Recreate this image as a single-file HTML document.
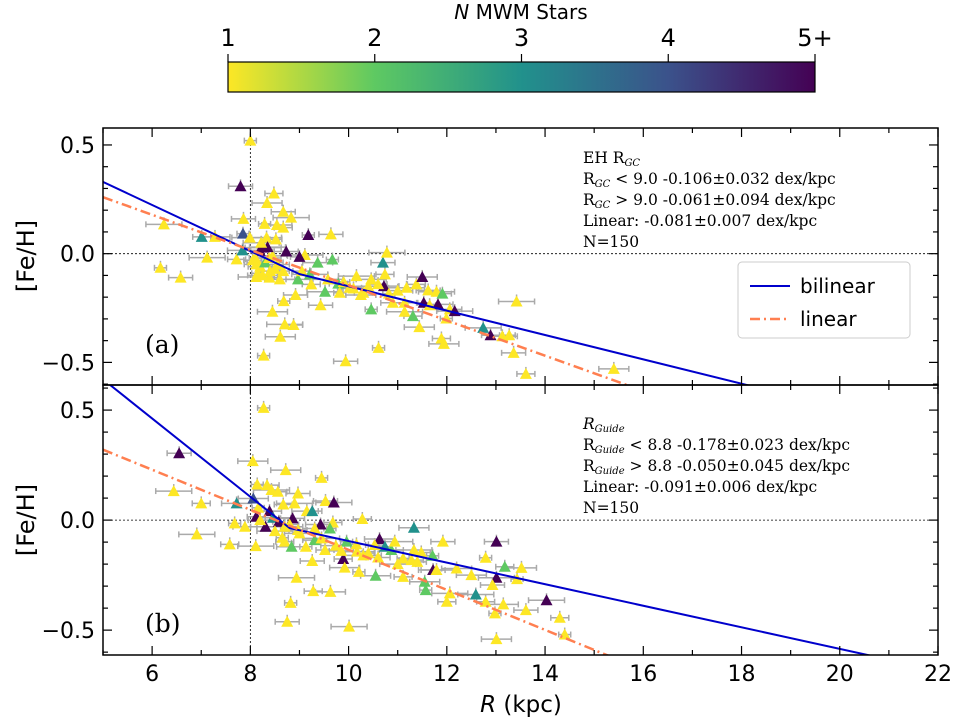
<!DOCTYPE html>
<html><head><meta charset="utf-8"><style>
html,body{margin:0;background:#fff;overflow:hidden;width:955px;height:720px}
svg{display:block}
.tk{font-family:"DejaVu Sans","Liberation Sans",sans-serif;font-size:21px;fill:#000}
.an{font-family:"DejaVu Serif","Liberation Serif",serif;font-size:15.5px;fill:#000}
</style></head><body>
<svg id="c" width="955" height="720" viewBox="0 0 955 720" xmlns="http://www.w3.org/2000/svg">
<defs><linearGradient id="vir" x1="0" x2="1" y1="0" y2="0">
<stop offset="0" stop-color="#fde725"/><stop offset="0.25" stop-color="#5ec962"/><stop offset="0.5" stop-color="#21918c"/><stop offset="0.75" stop-color="#3b528b"/><stop offset="1" stop-color="#440154"/></linearGradient></defs>
<g>
<text class="tk" x="521" y="19" text-anchor="middle" style="font-size:20px"><tspan font-style="italic">N</tspan> MWM Stars</text>
<rect x="228" y="62" width="587" height="30" fill="url(#vir)" stroke="#000" stroke-width="1.2"/>
<g id="cbt"></g>
</g>
<g id="pa"></g>
<g id="pb"></g>
<text class="tk" x="521" y="712" text-anchor="middle" style="font-size:23px"><tspan font-style="italic">R</tspan> (kpc)</text>
<text class="tk" transform="translate(34,256) rotate(-90)" text-anchor="middle" style="font-size:24px">[Fe/H]</text>
<text class="tk" transform="translate(34,520) rotate(-90)" text-anchor="middle" style="font-size:24px">[Fe/H]</text>
<g>
<rect x="738" y="262" width="172" height="76" rx="4" fill="#fff" stroke="#ccc"/>
<line x1="750" y1="286" x2="790" y2="286" stroke="#0000cc" stroke-width="2"/>
<text class="tk" x="800" y="293" style="font-size:20px">bilinear</text>
<line x1="750" y1="319" x2="790" y2="319" stroke="#ff7f50" stroke-width="2.5" stroke-dasharray="10,4,2,4"/>
<text class="tk" x="800" y="326" style="font-size:20px">linear</text>
</g>
<g>
<text class="an" x="583" y="163">EH R<tspan style="font-size:10px" dy="3" font-style="italic">GC</tspan></text>
<text class="an" x="583" y="184">R<tspan style="font-size:10px" dy="3" font-style="italic">GC</tspan><tspan dy="-3"> &lt;  9.0 -0.106±0.032 dex/kpc</tspan></text>
<text class="an" x="583" y="205">R<tspan style="font-size:10px" dy="3" font-style="italic">GC</tspan><tspan dy="-3"> &gt;  9.0 -0.061±0.094 dex/kpc</tspan></text>
<text class="an" x="583" y="226">Linear: -0.081±0.007 dex/kpc</text>
<text class="an" x="583" y="247">N=150</text>
<text class="an" x="145" y="353" style="font-size:25px">(a)</text>
</g>
<g>
<text class="an" x="583" y="429" font-style="italic">R<tspan style="font-size:10px" dy="3">Guide</tspan></text>
<text class="an" x="583" y="450">R<tspan style="font-size:10px" dy="3" font-style="italic">Guide</tspan><tspan dy="-3"> &lt;  8.8 -0.178±0.023 dex/kpc</tspan></text>
<text class="an" x="583" y="471">R<tspan style="font-size:10px" dy="3" font-style="italic">Guide</tspan><tspan dy="-3"> &gt;  8.8 -0.050±0.045 dex/kpc</tspan></text>
<text class="an" x="583" y="492">Linear: -0.091±0.006 dex/kpc</text>
<text class="an" x="583" y="513">N=150</text>
<text class="an" x="145" y="632" style="font-size:25px">(b)</text>
</g>
</svg>
<script>
// colour index 0 yellow,1 green,2 teal,3 blue,4 purple
const cbTicks=["1","2","3","4","5+"];
const aR=[8.0,7.8,6.24,7.01,7.28,6.17,6.58,7.12,7.72,7.84,7.85,7.86,7.99,8.48,8.34,8.29,8.67,8.83,8.67,8.54,9.18,9.64,8.26,8.19,8.33,8.52,8.73,9.11,9.0,9.37,9.67,8.12,8.12,8.39,8.6,8.67,8.97,9.21,9.24,8.45,8.68,8.92,8.7,8.88,8.61,8.27,9.43,9.52,9.79,9.58,9.82,10.02,10.16,10.3,10.46,10.46,10.7,10.78,10.74,10.72,10.82,10.9,11.18,11.38,11.5,11.53,11.62,11.79,11.91,11.82,11.65,11.14,11.14,11.31,11.44,11.99,12.06,12.16,11.89,11.94,10.61,9.94,12.74,12.89,13.13,13.27,13.36,13.42,13.61,15.4,8.1,8.2,8.3,8.4,8.45,8.15,8.55,8.35,8.05,8.25,9.9,10.1,10.4,10.6,11.0,8.5,8.38,8.22,9.05,10.25];
const aF=[0.52,0.31,0.135,0.077,0.077,-0.065,-0.11,-0.018,-0.026,0.015,0.092,0.16,0.074,0.277,0.233,0.137,0.193,0.166,0.12,0.132,0.086,0.089,0.028,0.013,0.074,0.066,0.01,-0.006,-0.015,-0.041,-0.027,-0.049,-0.107,-0.11,-0.118,-0.08,-0.118,-0.095,-0.141,-0.267,-0.218,-0.19,-0.325,-0.328,-0.382,-0.469,-0.237,-0.175,-0.138,-0.118,-0.18,-0.157,-0.103,-0.18,-0.118,-0.256,-0.041,0.005,-0.095,-0.149,-0.184,-0.226,-0.157,-0.141,-0.107,-0.226,-0.169,-0.175,-0.184,-0.233,-0.237,-0.226,-0.267,-0.287,-0.338,-0.298,-0.256,-0.264,-0.39,-0.415,-0.433,-0.495,-0.341,-0.375,-0.38,-0.375,-0.456,-0.22,-0.553,-0.53,-0.02,-0.06,-0.04,-0.08,-0.01,-0.09,-0.05,0.03,-0.03,-0.1,-0.13,-0.16,-0.15,-0.14,-0.17,-0.07,-0.02,0.05,-0.08,-0.19];
const aC=[0,4,0,2,0,0,0,0,0,2,3,0,0,0,0,0,0,0,0,0,4,0,4,4,0,0,4,0,4,1,1,0,0,0,0,0,1,1,0,0,0,0,0,0,0,0,0,1,1,0,0,0,0,0,0,1,2,0,0,4,0,0,0,0,4,4,0,0,1,4,0,0,0,1,0,0,0,4,0,0,0,0,2,4,0,0,0,0,0,0,0,0,1,0,0,0,0,4,0,0,0,0,0,0,0,0,0,0,0,0];
const bR=[8.27,6.55,6.44,7.0,7.72,7.68,7.89,6.91,7.58,8.05,8.14,8.34,8.43,8.56,8.72,9.45,8.97,8.9,8.67,8.06,8.16,8.39,8.46,8.12,8.31,8.58,8.86,8.7,8.97,9.15,9.26,9.53,9.7,9.68,9.43,9.62,9.31,8.11,8.7,8.84,9.13,9.31,9.45,9.52,9.74,9.96,10.16,10.17,9.89,9.92,10.21,9.26,8.94,9.28,9.63,8.82,8.75,10.01,10.28,10.63,10.74,10.87,10.94,10.53,10.55,11.11,11.28,11.33,11.48,11.33,11.71,11.72,11.79,11.11,11.55,11.57,11.92,12.06,12.0,12.5,12.79,13.01,13.01,13.18,13.52,13.43,12.93,12.59,12.79,13.15,12.98,13.61,14.03,14.3,13.01,14.4,8.2,8.5,8.8,9.0,10.4,10.6,11.0,11.4,12.2,8.65,9.85,10.3];
const bF=[0.51,0.304,0.132,0.076,0.076,-0.015,-0.03,-0.065,-0.11,0.268,0.162,0.159,0.137,0.129,0.227,0.192,0.121,0.076,0.071,0.098,0.056,0.041,0.011,0.015,-0.03,-0.008,0.008,-0.03,-0.045,0.041,0.041,0.087,0.08,-0.011,-0.02,-0.038,-0.038,-0.118,-0.098,-0.121,-0.121,-0.091,-0.083,-0.136,-0.116,-0.098,-0.11,-0.143,-0.177,-0.216,-0.235,-0.186,-0.262,-0.323,-0.326,-0.376,-0.462,-0.484,0.005,-0.086,-0.121,-0.136,-0.098,-0.113,-0.253,-0.174,-0.182,-0.136,-0.147,-0.035,-0.162,-0.227,-0.227,-0.258,-0.28,-0.318,-0.098,-0.333,-0.371,-0.25,-0.171,-0.098,-0.262,-0.212,-0.217,-0.268,-0.295,-0.338,-0.371,-0.383,-0.424,-0.409,-0.364,-0.444,-0.541,-0.52,0.0,-0.05,-0.02,-0.06,-0.15,-0.17,-0.2,-0.19,-0.22,-0.08,-0.14,-0.16];
const bC=[0,4,0,0,2,0,0,0,0,0,0,0,0,0,0,0,0,0,0,3,0,4,2,4,4,4,4,0,0,0,2,0,4,0,4,1,0,0,0,1,0,1,0,0,0,1,0,0,4,0,0,0,0,0,0,0,0,0,0,4,2,1,0,0,1,0,0,0,0,2,1,4,0,0,1,1,0,0,0,0,0,4,4,1,0,0,0,2,0,0,0,0,4,0,0,0,0,0,0,0,0,0,0,0,0,0,0,0];
const cols=["#fde725","#5ec962","#21918c","#3b528b","#440154"];
const NS="http://www.w3.org/2000/svg";
const X0=103,X1=938,RMIN=5,RMAX=22;
const sx=r=>X0+(r-RMIN)/(RMAX-RMIN)*(X1-X0);
function mk(tag,attrs,parent){const e=document.createElementNS(NS,tag);for(const k in attrs)e.setAttribute(k,attrs[k]);parent.appendChild(e);return e;}
const cbt=document.getElementById('cbt');
cbTicks.forEach((t,i)=>{const x=228+i*587/4;
 const tx=mk('text',{x:x,y:46,'text-anchor':'middle',class:'tk',style:'font-size:24px'},cbt);tx.textContent=t;
 
 
 mk('line',{x1:x,x2:x,y1:54,y2:62,stroke:'#000','stroke-width':1.2},cbt);});
function panel(g,top,bot,ymin,ymax,R,F,C,bil,lin,showX){
 const sy=v=>top+(ymax-v)/(ymax-ymin)*(bot-top);
 const clip='clip'+top;
 const cp=mk('clipPath',{id:clip},g);mk('rect',{x:X0,y:top,width:X1-X0,height:bot-top},cp);
 const pg=mk('g',{'clip-path':'url(#'+clip+')'},g);
 mk('line',{x1:X0,x2:X1,y1:sy(0),y2:sy(0),stroke:'#000','stroke-width':0.8,'stroke-dasharray':'2,2'},pg);
 mk('line',{x1:sx(8),x2:sx(8),y1:top,y2:bot,stroke:'#000','stroke-width':0.8,'stroke-dasharray':'2,2'},pg);
 for(let i=0;i<R.length;i++){const x=sx(R[i]),y=sy(F[i]);const ex=6+((i*7)%5)*3,ey=4;
  const eg=mk('g',{stroke:'#aaa','stroke-width':1.5},pg);
  
  
  mk('line',{x1:x-ex,x2:x+ex,y1:y,y2:y},eg);mk('line',{x1:x,x2:x,y1:y-ey-3,y2:y+ey},eg);
  mk('line',{x1:x-ex,x2:x-ex,y1:y-3,y2:y+3},eg);mk('line',{x1:x+ex,x2:x+ex,y1:y-3,y2:y+3},eg);}
 for(let i=0;i<R.length;i++){const x=sx(R[i]),y=sy(F[i]);
  const p=mk('polygon',{points:`${x-6},${y+5} ${x+6},${y+5} ${x},${y-6}`,fill:cols[C[i]]},pg);
  
  }
 const vb=bil[1]+bil[3]*(bil[2]-RMIN);
 const bl=mk('polyline',{points:`${sx(RMIN)},${sy(bil[1])} ${sx(bil[2])},${sy(vb)} ${sx(RMAX)},${sy(vb+bil[4]*(RMAX-bil[2]))}`,fill:'none',stroke:'#0000cc','stroke-width':2},pg);
 
 
 const ll=mk('line',{x1:sx(RMIN),y1:sy(lin[0]),x2:sx(RMAX),y2:sy(lin[0]+lin[1]*(RMAX-RMIN)),stroke:'#ff7f50','stroke-width':2.5,'stroke-dasharray':'10,4,2,4'},pg);
 
 
 mk('rect',{x:X0,y:top,width:X1-X0,height:bot-top,fill:'none',stroke:'#000','stroke-width':1.5},g);
 for(let r=5;r<=22;r++){const x=sx(r),L=(r%2==0)?9:5;
  mk('line',{x1:x,x2:x,y1:bot,y2:bot-L,stroke:'#000','stroke-width':1.2},g);
  mk('line',{x1:x,x2:x,y1:top,y2:top+L,stroke:'#000','stroke-width':1.2},g);
  if(showX&&r%2==0){const t=mk('text',{x:x,y:bot+26,'text-anchor':'middle',class:'tk',style:'font-size:22px'},g);t.textContent=r;
   
   }}
 for(let k=-6;k<=6;k++){const v=k/10;if(v<ymin||v>ymax)continue;const y=sy(v),L=(k%5==0)?9:5;
  mk('line',{x1:X0,x2:X0+L,y1:y,y2:y,stroke:'#000','stroke-width':1.2},g);
  mk('line',{x1:X1,x2:X1-L,y1:y,y2:y,stroke:'#000','stroke-width':1.2},g);
  if(k%5==0){const t=mk('text',{x:X0-8,y:y+8,'text-anchor':'end',class:'tk',style:'font-size:22px'},g);t.textContent=k==0?'0.0':(k>0?'0.5':'\u22120.5');
   
   }}
}
panel(document.getElementById('pa'),128,385,-0.604,0.578,aR,aF,aC,[5,0.33,9.0,-0.106,-0.056],[0.26,-0.081],false);
panel(document.getElementById('pb'),385,655,-0.613,0.614,bR,bF,bC,[5,0.64,8.8,-0.178,-0.049],[0.32,-0.091],true);
</script>
</body></html>
